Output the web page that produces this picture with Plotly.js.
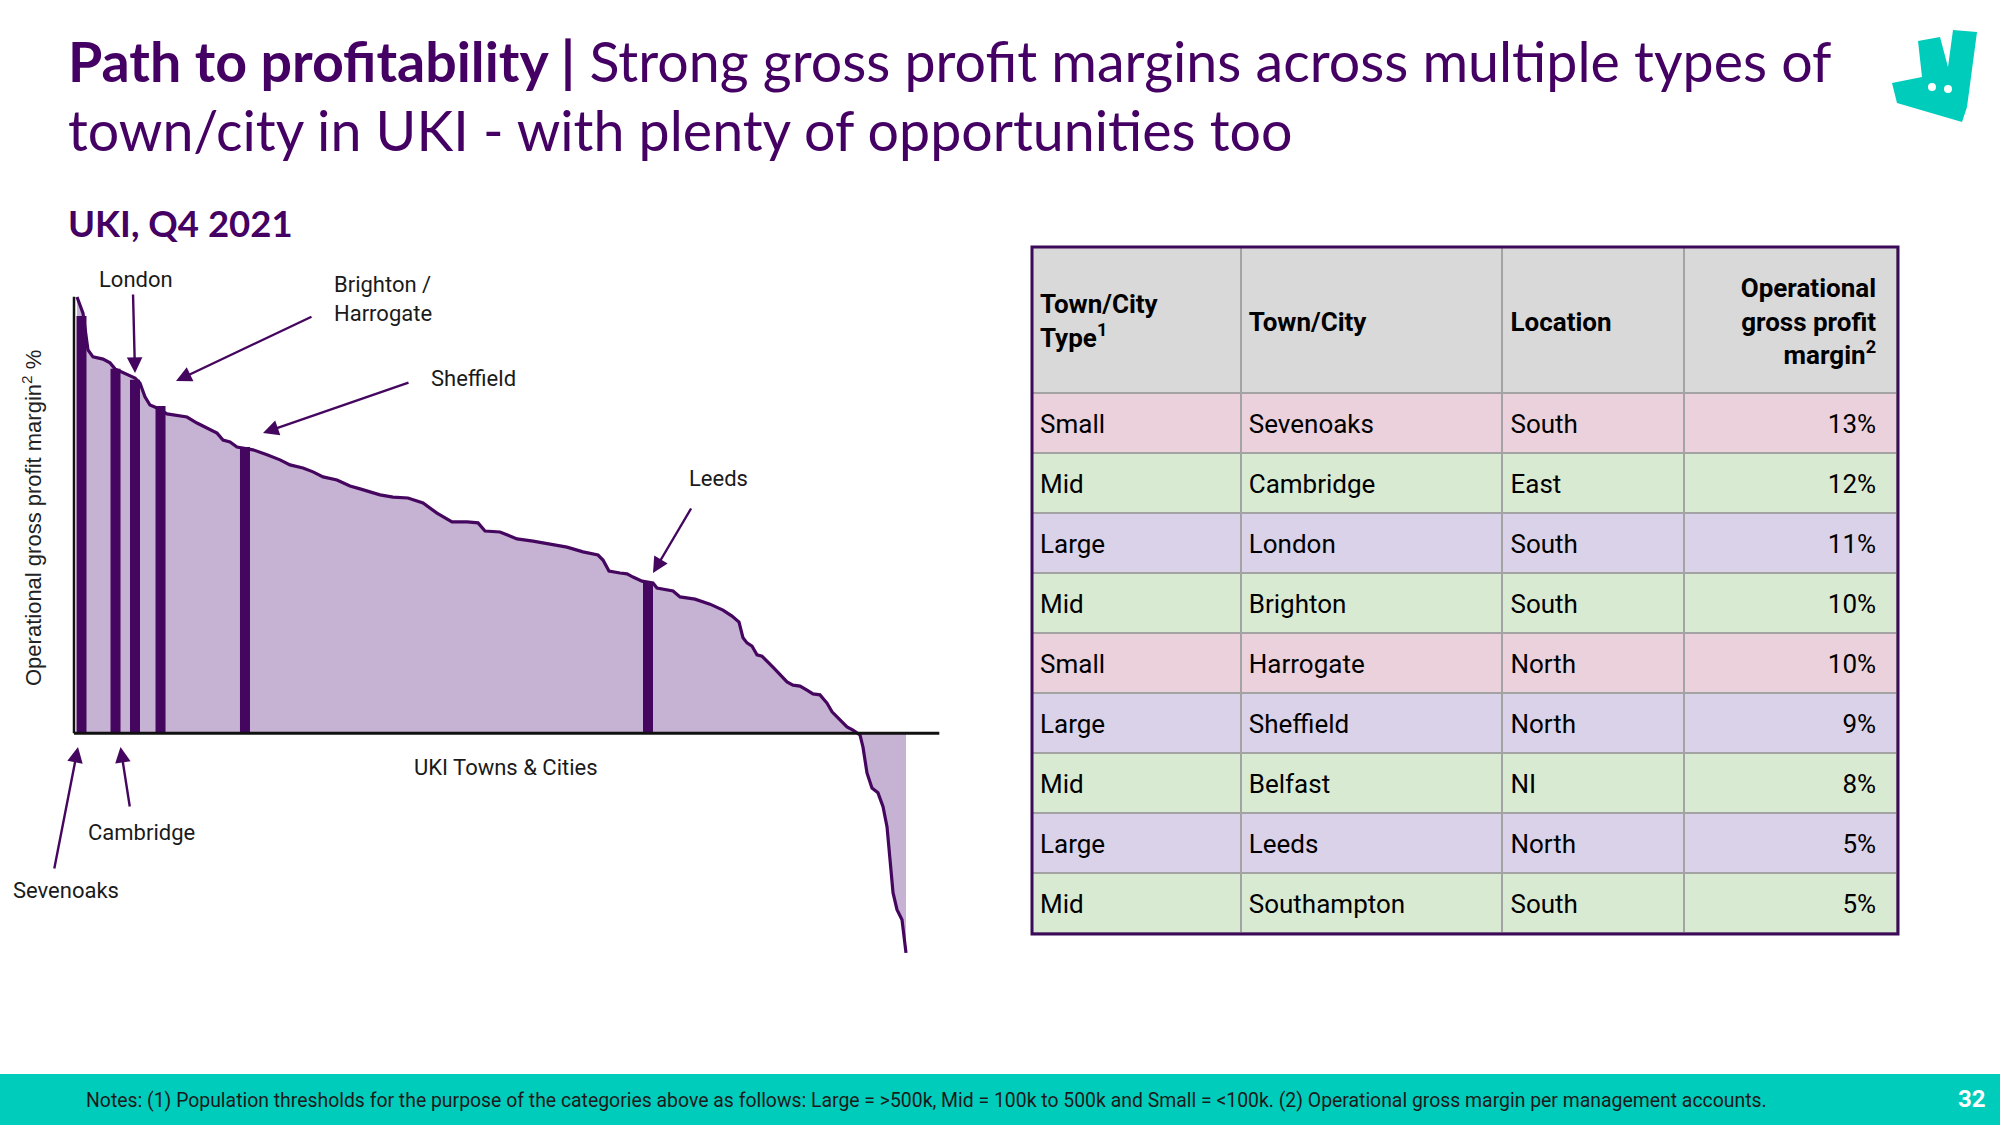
<!DOCTYPE html>
<html><head><meta charset="utf-8">
<script src="https://cdn.plot.ly/plotly-3.0.1.min.js"></script>
<style>html,body{margin:0;padding:0;background:#fff;}#chart{width:2000px;height:1125px;}</style>
</head><body><div id="chart"></div>
<script>
// ---------------- DATA ----------------
// Towns ranked by margin: position along the x axis (percentile of towns) and margin (%)
const townRankPct = [0.36,1.08,1.68,2.28,3.49,4.33,4.93,6.37,7.33,7.93,8.53,9.13,9.98,11.18,12.38,13.58,14.78,15.99,17.19,17.91,18.75,19.59,20.19,21.51,23.20,24.76,25.96,27.52,28.73,29.93,31.61,33.17,34.38,35.22,36.78,38.34,40.14,41.95,43.63,45.43,47.24,48.56,49.40,51.20,53.25,55.17,57.21,59.25,61.18,62.98,63.58,64.30,65.63,66.47,67.19,68.27,69.59,70.07,72.00,72.84,74.64,76.44,78.00,79.09,79.93,80.41,80.89,81.49,82.09,82.69,84.01,85.70,86.42,87.26,88.10,88.82,89.66,90.50,91.11,92.07,92.91,93.63,94.23,94.47,94.83,95.31,95.91,96.63,97.24,97.72,98.08,98.44,98.92,99.52,100.0];
const grossMarginPct = [13.85,13.34,12.17,11.95,11.88,11.76,11.57,11.41,11.28,11.12,10.68,10.42,10.33,10.14,10.10,10.04,9.85,9.69,9.53,9.31,9.25,9.09,9.06,9.00,8.84,8.68,8.52,8.42,8.30,8.14,8.04,7.85,7.76,7.69,7.57,7.50,7.47,7.31,6.99,6.71,6.71,6.68,6.42,6.39,6.17,6.10,6.01,5.91,5.76,5.66,5.50,5.15,5.09,5.06,4.96,4.83,4.77,4.61,4.52,4.33,4.26,4.10,3.91,3.72,3.53,3.03,2.87,2.77,2.49,2.45,2.10,1.63,1.53,1.50,1.37,1.25,1.22,0.96,0.68,0.42,0.20,0.10,0.01,-0.05,-0.44,-1.26,-1.74,-1.89,-2.33,-2.97,-4.02,-5.06,-5.60,-5.92,-6.97];

// Highlighted towns (dark bars)
const highlightTowns = ['Sevenoaks','Cambridge','London','Brighton / Harrogate','Sheffield','Leeds'];
const highlightRankPct = [0.90,4.99,7.33,10.40,20.55,68.99];
const highlightMarginPct = [13.25,11.57,11.22,10.39,9.09,4.80];

// Table
const tableHeaders = ['Town/City<br>Type<sup>1</sup>','Town/City','Location','Operational<br>gross profit<br>margin<sup>2</sup>'];
const tableType = ['Small','Mid','Large','Mid','Small','Large','Mid','Large','Mid'];
const tableTown = ['Sevenoaks','Cambridge','London','Brighton','Harrogate','Sheffield','Belfast','Leeds','Southampton'];
const tableLocation = ['South','East','South','South','North','North','NI','North','South'];
const tableMargin = [13,12,11,10,10,9,8,5,5];

// Texts
const titleBold = 'Path to profitability |';
const titleLine1 = ' Strong gross profit margins across multiple types of';
const titleLine2 = 'town/city in UKI - with plenty of opportunities too';
const subtitle = 'UKI, Q4 2021';
const yTitle = 'Operational gross profit margin<sup>2</sup> %';
const xTitle = 'UKI Towns & Cities';
const footnote = 'Notes: (1) Population thresholds for the purpose of the categories above as follows: Large = &gt;500k, Mid = 100k to 500k and Small = &lt;100k. (2) Operational gross margin per management accounts.';
const pageNumber = '32';

// ---------------- STYLE / GEOMETRY ----------------
const W = 2000, H = 1125;
const PURPLE = '#440063', DARK = '#45065f', FILL = '#C6B2D2', TEAL = '#00CCBC';
const px = x => x / W, py = y => 1 - y / H;
const X0PX = 74, XPX = 8.32, Y0PX = 733.3, YPX = 31.5;
const xRange = [-2, 106], yRange = [-7.5, 14.3];
const xAxisEnd = 104, yAxisTop = 13.86;

const typeColor = {Small: '#EAD1DC', Mid: '#D9EAD3', Large: '#D9D2E9'};
const rowColors = tableType.map(t => typeColor[t]);

// ---------------- TRACES ----------------
const area = {
  type: 'scatter', mode: 'lines', x: townRankPct, y: grossMarginPct,
  fill: 'tozeroy', fillcolor: FILL, line: {color: DARK, width: 3.2},
  hoverinfo: 'skip', showlegend: false
};
const barX = [], barY = [];
highlightRankPct.forEach((x, i) => { barX.push(x, x, null); barY.push(0, highlightMarginPct[i], null); });
const bars = {
  type: 'scatter', mode: 'lines', x: barX, y: barY,
  line: {color: DARK, width: 10}, hoverinfo: 'skip', showlegend: false
};

// table geometry
const TBL_L = 1032, TBL_R = 1898, TBL_T = 247, TBL_B = 934;
const colW = [209, 262, 182, 213];
const HEAD_H = 146, ROW_H = 60, LINE_H = 34;
const ALIGN = ['left', 'left', 'left', 'right'];
const FONT = {family: 'Roboto', size: 26, color: '#000'};
const CLEAR = 'rgba(0,0,0,0)';
const PAD = '\u00A0\u00A0';
const blankCol = tableType.map(() => '');
const tblDomain = shift => ({x: [px(TBL_L), px(TBL_R)], y: [py(TBL_B + 16 + shift), py(TBL_T + shift)]});

// grid (fills + lines)
const grid = {
  type: 'table', domain: tblDomain(0), columnwidth: colW,
  header: {values: tableHeaders.map(() => ''), height: HEAD_H, fill: {color: '#D9D9D9'},
    line: {color: '#A3A3A3', width: 2}, font: FONT},
  cells: {values: [blankCol, blankCol, blankCol, blankCol], height: ROW_H,
    fill: {color: [rowColors, rowColors, rowColors, rowColors]}, line: {color: '#A3A3A3', width: 2}, font: FONT}
};
// text layers (vertically centred by offsetting transparent tables)
const textTable = (shift, headerVals, withCells) => ({
  type: 'table', domain: tblDomain(shift), columnwidth: colW,
  header: {values: headerVals.map(h => h ? '<b>' + h + '</b>' : ''),
    height: HEAD_H, align: ALIGN, fill: {color: CLEAR}, line: {color: CLEAR, width: 0}, font: FONT},
  cells: {values: withCells ? [tableType, tableTown, tableLocation, tableMargin.map(v => v + '%' + PAD)] :
      [blankCol, blankCol, blankCol, blankCol],
    height: ROW_H, align: ALIGN, fill: {color: CLEAR}, line: {color: CLEAR, width: 0}, font: FONT}
});
const h4 = tableHeaders[3].split('<br>').map(l => l + PAD);  // right column: one right-aligned line per layer
const SINGLE = 52;  // offset that centres a single header line
const tBody = textTable(12, ['', '', '', ''], true);
const tHeadA = textTable(SINGLE - LINE_H, ['', '', '', h4[0]], false);
const tHeadB = textTable(SINGLE, ['', tableHeaders[1], tableHeaders[2], h4[1]], false);
const tHeadC = textTable(SINGLE + LINE_H - 5, ['', '', '', h4[2]], false);
const tHead1 = textTable(SINGLE - LINE_H / 2 - 1, [tableHeaders[0], '', '', ''], false);

// ---------------- ANNOTATIONS ----------------
const ann = [];
const txt = (t, x, y, o) => ann.push(Object.assign({text: t, x: px(x), y: py(y), xref: 'paper', yref: 'paper',
  showarrow: false, xanchor: 'center', yanchor: 'middle', font: {family: 'Roboto', size: 22, color: '#1a1a1a'}}, o || {}));
const titleFont = {family: 'Lato', size: 55.5, color: PURPLE};
txt('<b>' + titleBold + '</b>' + titleLine1, 66, 61, {xanchor: 'left', font: titleFont});
txt(titleLine2, 66, 130, {xanchor: 'left', font: titleFont});
txt('<b>' + subtitle + '</b>', 66, 223, {xanchor: 'left', font: {family: 'Lato', size: 36.5, color: PURPLE}});
txt(yTitle, 32, 518, {textangle: -90, font: {family: 'Liberation Sans', size: 22, color: '#222'}});
txt(xTitle, 506, 767);
txt(highlightTowns[2], 136, 279);
txt(highlightTowns[3].replace(' / ', ' /<br>'), 332, 299, {xanchor: 'left', align: 'left'});
txt(highlightTowns[4], 429, 378, {xanchor: 'left'});
txt(highlightTowns[5], 718, 478);
txt(highlightTowns[1], 141, 832);
txt(highlightTowns[0], 66, 890);
txt(footnote, 84, 1100, {xanchor: 'left', font: {family: 'Roboto', size: 19.4, color: '#1a1a1a'}});
txt('<b>' + pageNumber + '</b>', 1972, 1099, {font: {family: 'Roboto', size: 24, color: '#fff'}});

const arrow = (tip, tail) => ann.push({text: '', x: px(tip[0]), y: py(tip[1]), xref: 'paper', yref: 'paper',
  showarrow: true, ax: tail[0] - tip[0], ay: tail[1] - tip[1], arrowhead: 2, arrowsize: 1.3, arrowwidth: 2.4,
  arrowcolor: DARK, standoff: 0});
arrow([135, 373], [133, 293]);
arrow([176, 381], [313, 316]);
arrow([263, 433], [410, 382]);
arrow([653, 573], [692, 507]);
arrow([78, 747], [54, 870]);
arrow([120.5, 747], [130, 808]);

// ---------------- SHAPES ----------------
const P = (x, y) => px(x).toFixed(5) + ',' + py(y).toFixed(5);
const shapes = [
  {type: 'line', xref: 'x', yref: 'y', x0: 0, x1: 0, y0: 0, y1: yAxisTop, line: {color: '#111', width: 2.5}},
  {type: 'line', xref: 'x', yref: 'y', x0: 0, x1: xAxisEnd, y0: 0, y1: 0, line: {color: '#111', width: 3}},
  {type: 'rect', xref: 'paper', yref: 'paper', x0: px(TBL_L), x1: px(TBL_R), y0: py(TBL_B), y1: py(TBL_T), line: {color: '#3B0A58', width: 3}},
  {type: 'rect', xref: 'paper', yref: 'paper', x0: 0, x1: 1, y0: 0, y1: py(1074), fillcolor: TEAL, line: {width: 0}, layer: 'below'},
  {type: 'path', xref: 'paper', yref: 'paper', fillcolor: TEAL, line: {width: 0},
    path: 'M' + P(1918, 41) + 'L' + P(1940, 37) + 'L' + P(1948, 67) + 'L' + P(1953, 30) + 'L' + P(1977, 32) +
      'L' + P(1967, 107) + 'L' + P(1962, 122) + 'L' + P(1897, 103) + 'L' + P(1892, 83) + 'L' + P(1922, 77) + 'Z'},
  {type: 'circle', xref: 'paper', yref: 'paper', x0: px(1928), x1: px(1936), y0: py(91), y1: py(83), fillcolor: '#fff', line: {width: 0}},
  {type: 'circle', xref: 'paper', yref: 'paper', x0: px(1944), x1: px(1952), y0: py(93), y1: py(85), fillcolor: '#fff', line: {width: 0}}
];

const layout = {
  width: W, height: H, margin: {l: 0, r: 0, t: 0, b: 0},
  paper_bgcolor: '#fff', plot_bgcolor: 'rgba(0,0,0,0)', showlegend: false,
  xaxis: {domain: [px(X0PX + XPX * xRange[0]), px(X0PX + XPX * xRange[1])], range: xRange,
    showgrid: false, zeroline: false, showticklabels: false, ticks: '', showline: false, fixedrange: true},
  yaxis: {domain: [py(Y0PX - YPX * yRange[0]), py(Y0PX - YPX * yRange[1])], range: yRange,
    showgrid: false, zeroline: false, showticklabels: false, ticks: '', showline: false, fixedrange: true},
  annotations: ann, shapes: shapes
};

Plotly.newPlot('chart', [area, bars, grid, tBody, tHeadA, tHeadB, tHeadC, tHead1], layout, {displayModeBar: false, staticPlot: true});
</script></body></html>
